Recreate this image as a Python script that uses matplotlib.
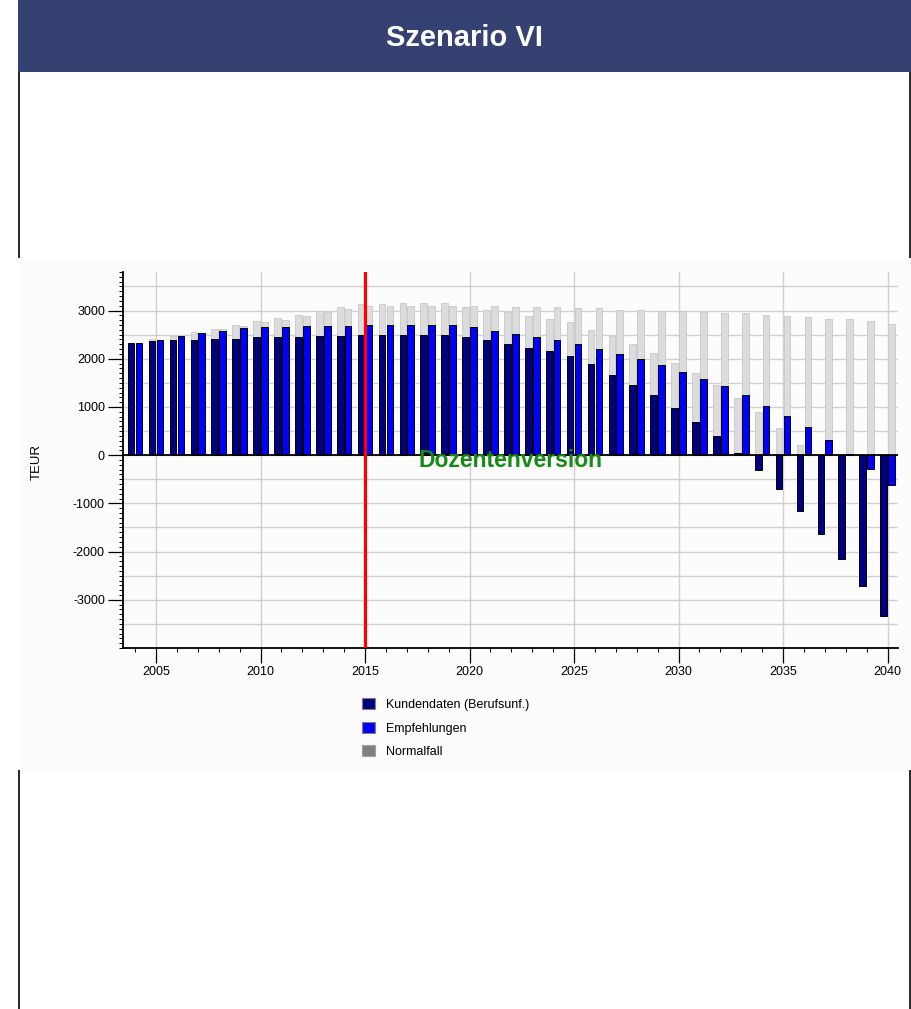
import numpy as np
import matplotlib

matplotlib.use("Agg")
import matplotlib.pyplot as plt
from matplotlib.patches import Rectangle, Patch
from matplotlib.ticker import MultipleLocator

# ===================== Data =====================
years = np.arange(2004, 2041)

kundendaten = [2330, 2365, 2380, 2390, 2415, 2415, 2445, 2445, 2445, 2470,
               2470, 2495, 2495, 2495, 2495, 2495, 2445, 2390, 2305, 2230,
               2155, 2050, 1890, 1665, 1460, 1245, 980, 690, 395, 50,
               -315, -710, -1160, -1645, -2155, -2710, -3335]

empfehlungen = [2330, 2395, 2465, 2525, 2575, 2630, 2655, 2655, 2680, 2680,
                2680, 2710, 2710, 2710, 2710, 2710, 2655, 2575, 2520, 2445,
                2390, 2305, 2200, 2090, 1995, 1880, 1720, 1590, 1430, 1245,
                1030, 820, 585, 315, 30, -280, -625]

# Normalfall, drawn behind each of the two series
normal_kunden = [2320, 2410, 2480, 2550, 2625, 2710, 2785, 2840, 2915, 2985,
                 3075, 3140, 3140, 3165, 3165, 3165, 3075, 3020, 2980, 2890,
                 2815, 2765, 2605, 2465, 2305, 2120, 1910, 1695, 1450, 1195,
                 895, 555, 210, -150, -550, -990, -1450]

normal_empf = [2320, 2390, 2455, 2520, 2610, 2680, 2765, 2810, 2890, 2970,
               3025, 3105, 3105, 3105, 3105, 3105, 3105, 3105, 3075, 3075,
               3075, 3050, 3050, 3020, 3020, 2985, 2985, 2970, 2940, 2940,
               2915, 2880, 2860, 2835, 2815, 2785, 2730]

labels = ["Kundendaten (Berufsunf.)", "Empfehlungen", "Normalfall"]
marker_year = 2015

# ===================== Figure =====================
W, H = 911, 1009
fig = plt.figure(figsize=(W / 100, H / 100), dpi=100)
fig.patch.set_facecolor("white")
plt.rcParams["font.family"] = ["Liberation Sans", "DejaVu Sans"]


def px(x0, y0, w, h):
    # pixel box (top-left origin) -> figure fraction
    return (x0 / W, 1 - (y0 + h) / H, w / W, h / H)


# header band + page frame
x0, y0, w, h = px(18, 0, W - 18, 72)
fig.patches.append(Rectangle((x0, y0), w, h, transform=fig.transFigure,
                             facecolor="#354170", edgecolor="none", zorder=0))
fig.text((18 + W) / 2 / W, 1 - 38 / H, "Szenario VI", color="white",
         fontsize=21, fontweight="bold", ha="center", va="center")

for xl in (18.5, 909.5):
    fig.add_artist(plt.Line2D([xl / W, xl / W], [1 - 72 / H, 0],
                              transform=fig.transFigure, color="black",
                              linewidth=1.2, zorder=0))

# chart panel on top of the frame
x0, y0, w, h = px(18, 258, W - 18, 512)
fig.patches.append(Rectangle((x0, y0), w, h, transform=fig.transFigure,
                             facecolor="#fcfcfc", edgecolor="none", zorder=1))

# ===================== Axes =====================
ax = fig.add_axes(px(123, 272, 775, 376))
ax.set_facecolor("#fcfcfc")
ax.set_zorder(2)

bar_w = 0.32
off = 0.19

ax.bar(years - off, normal_kunden, width=bar_w, color="#dcdcdc",
       edgecolor="#c8c8c8", linewidth=0.6, zorder=2)
ax.bar(years + off, normal_empf, width=bar_w, color="#dcdcdc",
       edgecolor="#c8c8c8", linewidth=0.6, zorder=2)
ax.bar(years - off, kundendaten, width=bar_w, color="#000080",
       edgecolor="black", linewidth=0.7, zorder=3)
ax.bar(years + off, empfehlungen, width=bar_w, color="#0000ff",
       edgecolor="black", linewidth=0.7, zorder=3)

ax.axhline(0, color="black", linewidth=1.3, zorder=4)
ax.axvline(marker_year, color="#ff0000", linewidth=2.3, zorder=5)

ax.text(0.5, 0.5, "Dozentenversion", transform=ax.transAxes,
        color="#158a15", fontsize=16.5, fontweight="bold",
        ha="center", va="center", zorder=6)

ax.set_xlim(2003.42, 2040.5)
ax.set_ylim(-4000, 3800)

ax.xaxis.set_major_locator(MultipleLocator(5))
ax.xaxis.set_minor_locator(MultipleLocator(1))
ax.yaxis.set_major_locator(MultipleLocator(1000))
ax.yaxis.set_minor_locator(MultipleLocator(100))

ax.set_yticks(np.arange(-3000, 3001, 1000))
ax.set_yticklabels([str(v) for v in range(-3000, 3001, 1000)])

ax.tick_params(axis="both", which="major", labelsize=9, width=0.9,
               length=11, pad=2, direction="out")
ax.tick_params(axis="both", which="minor", width=0.7, length=3,
               direction="out")

# grid: every 500 on y, every 5 years on x
for gy in np.arange(-3500, 3501, 500):
    ax.axhline(gy, color="#d0d0d0", linewidth=1.0, zorder=1)
for gx in range(2005, 2041, 5):
    ax.axvline(gx, color="#d0d0d0", linewidth=1.0, zorder=1)

for sp in ["top", "right"]:
    ax.spines[sp].set_visible(False)
for sp in ["left", "bottom"]:
    ax.spines[sp].set_linewidth(1.3)

fig.text(37 / W, 1 - 462 / H, "TEUR", rotation=90, fontsize=9.5,
         ha="center", va="center")

# ===================== Legend =====================
handles = [
    Patch(facecolor="#000080", edgecolor="#808080", linewidth=0.8),
    Patch(facecolor="#0000ff", edgecolor="#808080", linewidth=0.8),
    Patch(facecolor="#808080", edgecolor="#a0a0a0", linewidth=0.8),
]
fig.legend(handles, labels, loc="upper left",
           bbox_to_anchor=(356 / W, 1 - 692 / H), frameon=False,
           fontsize=9, handlelength=1.0, handleheight=1.0,
           handletextpad=0.9, labelspacing=0.85, borderpad=0)

fig.savefig("out.png", dpi=100, facecolor="white")
